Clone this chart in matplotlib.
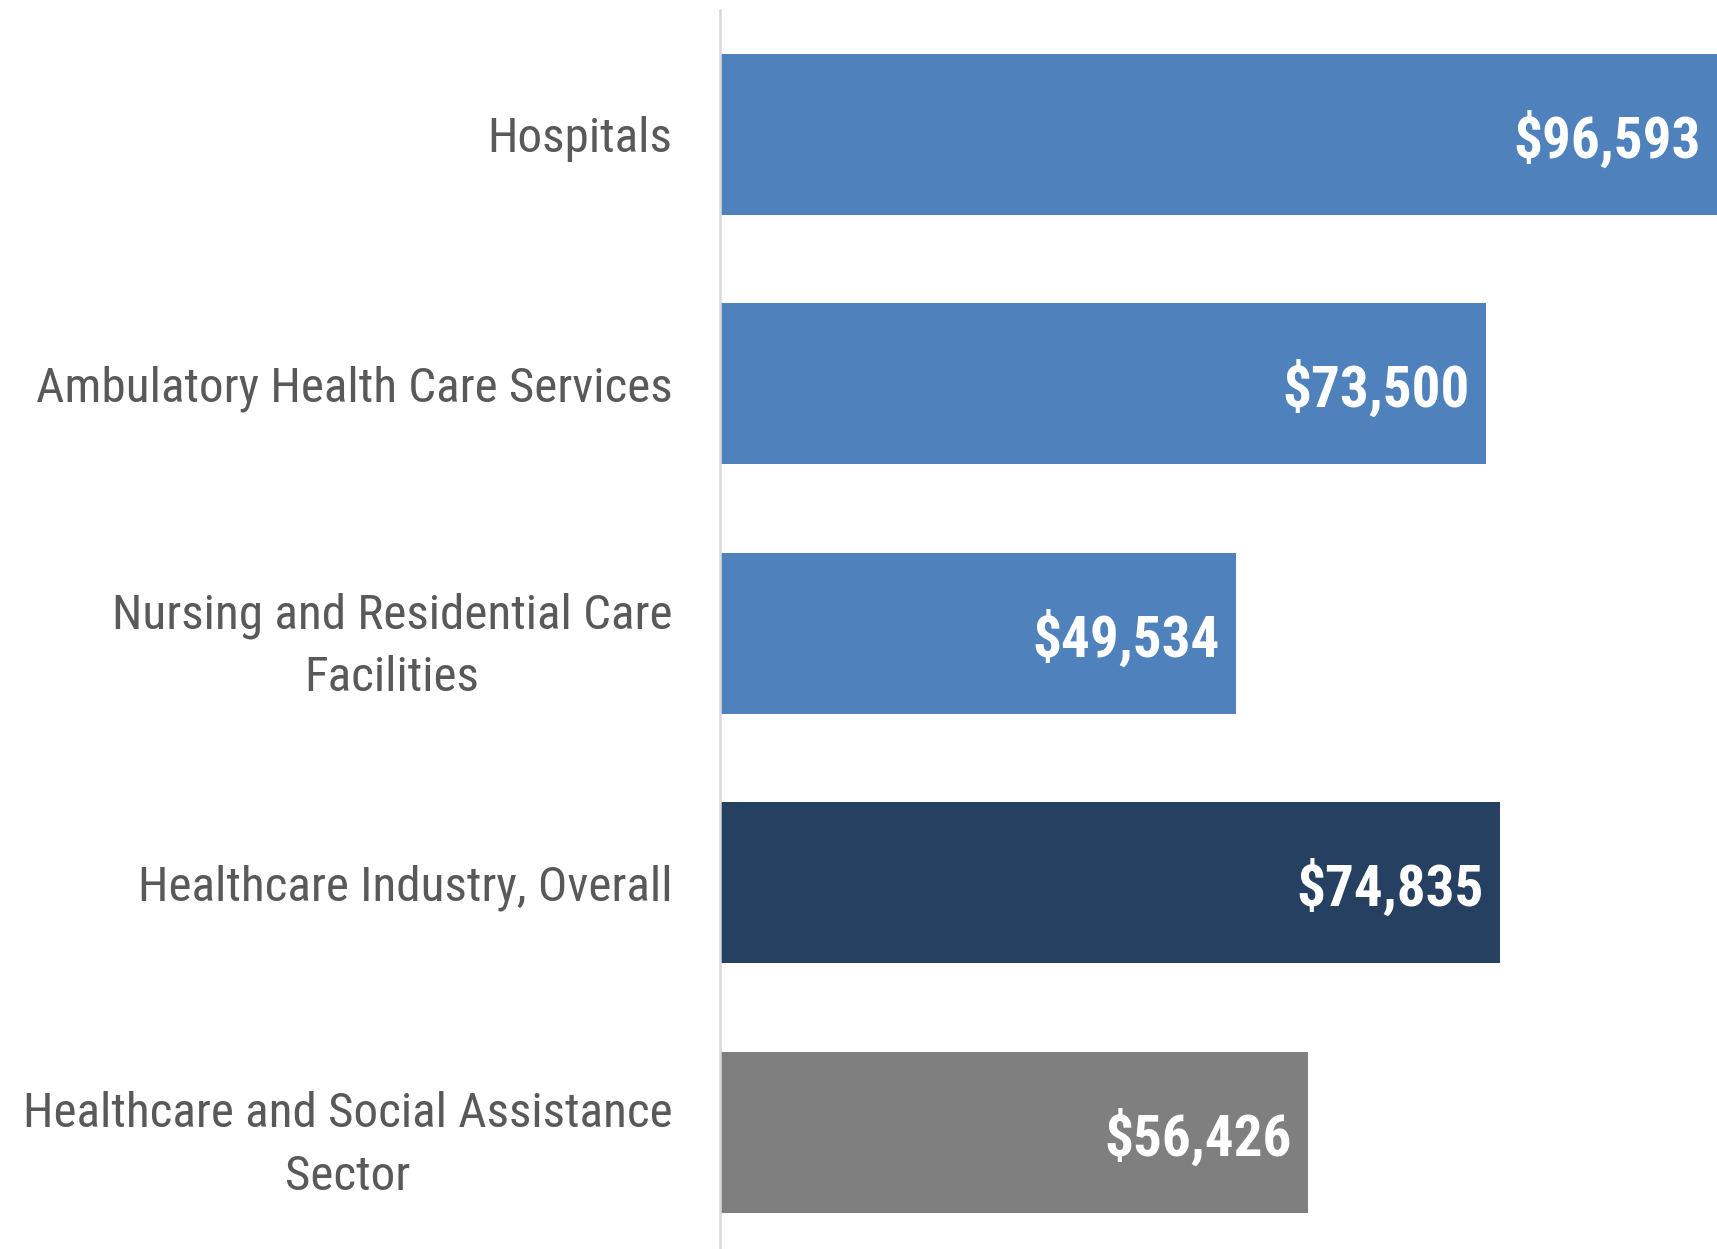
import os
import matplotlib
matplotlib.use("Agg")
import matplotlib.pyplot as plt
from matplotlib import font_manager
from matplotlib.font_manager import FontProperties

categories = ["Hospitals", "Ambulatory Health Care Services",
              "Nursing and Residential Care\nFacilities",
              "Healthcare Industry, Overall",
              "Healthcare and Social Assistance\nSector"]
values = [96593, 73500, 49534, 74835, 56426]
labels = ["$96,593", "$73,500", "$49,534", "$74,835", "$56,426"]
colors = ["#4F81BD", "#4F81BD", "#4F81BD", "#254061", "#7F7F7F"]


def weight_num(w):
    if isinstance(w, int):
        return w
    m = {"ultralight": 200, "light": 300, "normal": 400, "regular": 400, "book": 400,
         "medium": 500, "roman": 400, "semibold": 600, "demibold": 600, "demi": 600,
         "bold": 700, "heavy": 800, "extra bold": 800, "black": 900}
    return m.get(str(w).lower(), 400)


def find_narrow(bold):
    pref = ["liberation", "arial", "roboto", "open", "noto", "dejavu"]
    best = None
    for f in font_manager.fontManager.ttflist:
        n = f.name.lower()
        fn = os.path.basename(f.fname).lower()
        st = str(f.stretch).lower()
        narrow = ("narrow" in n or "condensed" in n or "narrow" in fn or "condensed" in fn
                  or st in ("condensed", "semi-condensed", "extra-condensed"))
        if not narrow or f.style != "normal":
            continue
        if "mono" in fn or "serif" in n.replace("sans serif", "") or "italic" in fn or "oblique" in fn:
            continue
        if "[" in fn or "variable" in fn:
            continue
        rank = next((i for i, p in enumerate(pref) if p in n), len(pref))
        wd = abs(weight_num(f.weight) - (700 if bold else 400))
        key = (rank, wd)
        if best is None or key < best[0]:
            best = (key, f.fname)
    return best[1] if best else None


reg_path = find_narrow(False)
bold_path = find_narrow(True)
if reg_path:
    fp_reg = FontProperties(fname=reg_path)
else:
    fp_reg = FontProperties(family=["Liberation Sans", "DejaVu Sans"])
if bold_path:
    fp_bold = FontProperties(fname=bold_path)
else:
    fp_bold = FontProperties(family=["Liberation Sans", "DejaVu Sans"], weight="bold")

W, H = 1717, 1249
fig = plt.figure(figsize=(W / 100, H / 100), dpi=100)
renderer = fig.canvas.get_renderer()


def fit_size(text, fp, target_px, base=40):
    p = fp.copy()
    p.set_size(base)
    t = fig.text(0, 0, text, fontproperties=p)
    w = t.get_window_extent(renderer).width
    t.remove()
    return base * target_px / w


size_lab = fit_size("Healthcare and Social Assistance", fp_reg, 650)
size_val = fit_size("$56,426", fp_bold, 187)
fp_reg.set_size(size_lab)
fp_bold.set_size(size_val)

ax = fig.add_axes([719.5 / W, 0, 1 - 719.5 / W, 1 - 10 / H])

xmax = 95600
y = list(range(len(categories)))
ax.barh(y, values, height=0.645, color=colors, edgecolor="none")
ax.set_xlim(0, xmax)
ax.set_ylim(4.467, -0.498)

for yi, v, lab in zip(y, values, labels):
    xv = min(v, xmax)
    ax.annotate(lab, xy=(xv, yi), xytext=(-12, 0), textcoords="offset points",
                ha="right", va="center_baseline", color="white",
                fontproperties=fp_bold, annotation_clip=False)

ax.set_yticks(y)
ax.set_yticklabels(categories)
for t in ax.get_yticklabels():
    t.set_fontproperties(fp_reg)
    t.set_color("#595959")
    t.set_multialignment("center")
    t.set_linespacing(1.45)
ax.tick_params(axis="y", length=0, pad=34)
ax.set_xticks([])
for s in ["top", "right", "bottom"]:
    ax.spines[s].set_visible(False)
ax.spines["left"].set_color("#D9D9D9")
ax.spines["left"].set_linewidth(1.8)

fig.savefig("out.png", dpi=100)
